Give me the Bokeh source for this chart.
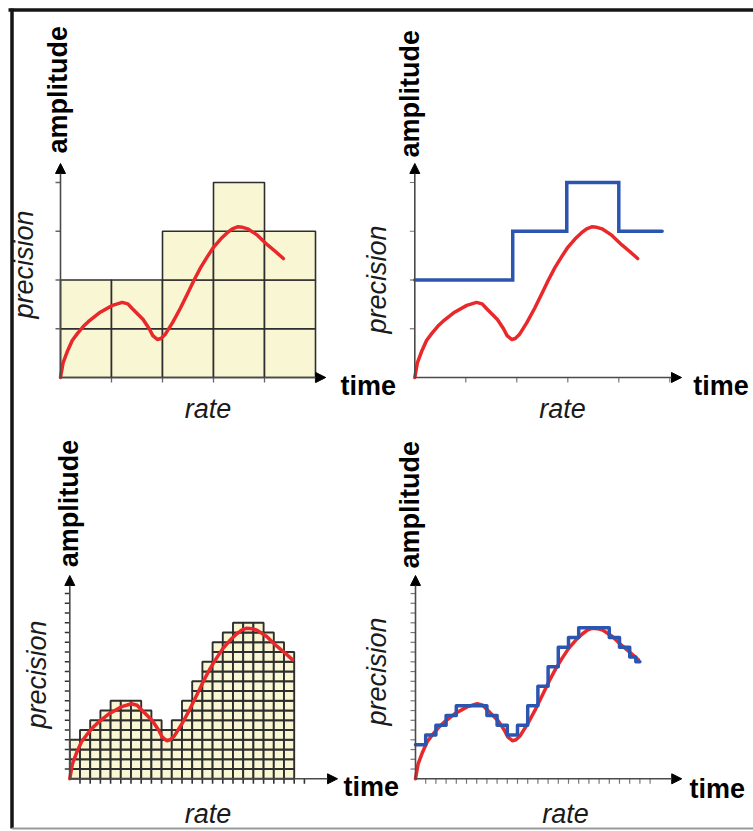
import numpy as np
from bokeh.plotting import figure
from bokeh.models import Range1d, Label, Arrow, NormalHead
from bokeh.embed import file_html
from bokeh.resources import INLINE

# ---------------- data ----------------
# analogue signal (time in sample periods, amplitude in coarse levels)
CURVE_T = [0.0, 0.05, 0.14, 0.23, 0.33, 0.45, 0.55, 0.78, 1.02, 1.21, 1.32, 1.41,
           1.62, 1.74, 1.81, 1.90, 1.97, 2.05, 2.20, 2.35, 2.49, 2.62, 2.75, 2.88,
           3.00, 3.14, 3.27, 3.37, 3.47, 3.57, 3.67, 3.86, 4.06, 4.22, 4.37]
CURVE_A = [0.0, 0.30, 0.55, 0.76, 0.90, 1.05, 1.15, 1.34, 1.48, 1.54, 1.51, 1.41,
           1.19, 1.00, 0.86, 0.78, 0.80, 0.88, 1.13, 1.42, 1.72, 2.00, 2.26, 2.48,
           2.67, 2.84, 2.97, 3.05, 3.09, 3.08, 3.05, 2.92, 2.72, 2.58, 2.44]

# coarse sampling (low rate, low precision)
COARSE_T = [0, 1, 2, 3, 4]
COARSE_LEVEL = [2, 2, 3, 4, 3]
HOLD_T = [0.0, 1.92, 2.98, 4.0]
HOLD_LEVEL = [2, 3, 4, 3]
HOLD_END = 4.85
COARSE_XTICKS = [1, 2, 3, 4, 5]
COARSE_YTICKS = [1, 2, 3, 4]

# fine sampling (high rate, high precision), same units
FINE_T = [0.0, 0.2, 0.4, 0.6, 0.8, 1.0, 1.2, 1.4, 1.6, 1.8, 2.0,
          2.2, 2.4, 2.6, 2.8, 3.0, 3.2, 3.4, 3.6, 3.8, 4.0, 4.2]
FINE_LEVEL = [0.8, 1.0, 1.2, 1.4, 1.6, 1.6, 1.6, 1.4, 1.2, 1.0, 1.2,
              1.6, 2.0, 2.4, 2.8, 3.0, 3.2, 3.2, 3.2, 3.0, 2.8, 2.6]
FINE_HOLD_T = [0.0, 0.2, 0.4, 0.6, 0.8, 1.0, 1.2, 1.4, 1.6, 1.8, 2.0,
               2.2, 2.4, 2.6, 2.8, 3.0, 3.2, 3.4, 3.6, 3.8, 4.0, 4.2, 4.32]
FINE_HOLD_LEVEL = [0.7, 0.9, 1.1, 1.3, 1.5, 1.5, 1.5, 1.3, 1.1, 0.9, 1.1,
                   1.5, 1.9, 2.3, 2.7, 2.9, 3.1, 3.1, 3.1, 2.9, 2.7, 2.5, 2.4]
FINE_HOLD_END = 4.4
FINE_XTICKS = [0.2, 0.4, 0.6, 0.8, 1.0, 1.2, 1.4, 1.6, 1.8, 2.0, 2.2, 2.4,
               2.6, 2.8, 3.0, 3.2, 3.4, 3.6, 3.8, 4.0, 4.2, 4.4, 4.6]
FINE_YTICKS = [0.2, 0.4, 0.6, 0.8, 1.0, 1.2, 1.4, 1.6, 1.8, 2.0, 2.2, 2.4,
               2.6, 2.8, 3.0, 3.2, 3.4, 3.6, 3.8]

AXIS_X = "time"
AXIS_Y = "amplitude"
LABEL_X = "rate"
LABEL_Y = "precision"

# ---------------- styling / layout ----------------
CREAM = "#F9F7D3"
GRIDC = "#2e2e2e"
RED = "#E8282A"
BLUE = "#2C55B0"
FONT = "Liberation Sans"
FS = "27px"

W, H = 753, 831
SX, SY = 51.0, 48.75   # pixels per time unit / per level

p = figure(width=W, height=H, x_range=Range1d(0, W), y_range=Range1d(H, 0),
           x_axis_type=None, y_axis_type=None, toolbar_location=None,
           output_backend="svg", min_border=0, outline_line_color=None,
           background_fill_color="white", border_fill_color="white")

# origins of the four panels (page pixels)
ORIG = {"p1": (60.0, 377.0), "p2": (414.3, 377.0),
        "p3": (69.3, 778.3), "p4": (415.0, 778.3)}
xr, yr = {}, {}
for k, (ox, oy) in ORIG.items():
    xr[k] = Range1d((0 - ox) / SX, (W - ox) / SX)
    yr[k] = Range1d((oy - H) / SY, (oy - 0) / SY)
p.extra_x_ranges = xr
p.extra_y_ranges = yr

# outer frame
p.segment(x0=[8, 11.5], y0=[9.5, 8], x1=[753, 11.5], y1=[9.5, 828],
          line_color="#151515", line_width=3.5)
p.segment(x0=[11.5], y0=[828], x1=[753], y1=[828], line_color="#9a9a9a", line_width=2)


def cells(ts, levels, w, h, name, lw):
    l, r, b, t = [], [], [], []
    for t0, lev in zip(ts, levels):
        n = int(round(lev / h))
        for k in range(n):
            l.append(t0); r.append(t0 + w)
            b.append(k * h); t.append((k + 1) * h)
    p.quad(left=l, right=r, bottom=b, top=t, fill_color=CREAM,
           line_color=GRIDC, line_width=lw, x_range_name=name, y_range_name=name)


def step_path(edges, levels, end):
    xs, ys = [], []
    bounds = list(edges[1:]) + [end]
    for x0, x1, lev in zip(edges, bounds, levels):
        xs += [x0, x1]
        ys += [lev, lev]
    return xs, ys


def axes(name, xtip, ytip, xticks, yticks, tick_color, tick_w):
    tl_y = 5.0 / SY
    tl_x = 5.0 / SX
    p.segment(x0=xticks, y0=[0] * len(xticks), x1=xticks, y1=[-tl_y] * len(xticks),
              line_color=tick_color, line_width=tick_w, x_range_name=name, y_range_name=name)
    p.segment(x0=[0] * len(yticks), y0=yticks, x1=[-tl_x] * len(yticks), y1=yticks,
              line_color=tick_color, line_width=tick_w, x_range_name=name, y_range_name=name)
    for (xe, ye) in [(xtip, 0), (0, ytip)]:
        p.add_layout(Arrow(end=NormalHead(size=10, fill_color="black", line_color="black",
                                          line_width=1),
                           x_start=0, y_start=0, x_end=xe, y_end=ye,
                           line_color="#4a4a4a", line_width=1.6,
                           x_range_name=name, y_range_name=name))


# panel 1: coarse cells
cells(COARSE_T, COARSE_LEVEL, 1.0, 1.0, "p1", 1.6)
axes("p1", 5.2, 4.39, COARSE_XTICKS, COARSE_YTICKS, "#666666", 1.3)
p.line(CURVE_T, CURVE_A, line_color=RED, line_width=3.5, line_join="round",
       line_cap="round", x_range_name="p1", y_range_name="p1")

# panel 2: coarse hold
axes("p2", 5.23, 4.39, COARSE_XTICKS, COARSE_YTICKS, "#777777", 1.2)
p.line(CURVE_T, CURVE_A, line_color=RED, line_width=3.5, line_join="round",
       line_cap="round", x_range_name="p2", y_range_name="p2")
hx, hy = step_path(HOLD_T, HOLD_LEVEL, HOLD_END)
p.line(hx, hy, line_color=BLUE, line_width=3.5, line_join="miter",
       line_cap="round", x_range_name="p2", y_range_name="p2")

# panel 3: fine cells
cells(FINE_T, FINE_LEVEL, 0.2, 0.2, "p3", 1.9)
axes("p3", 5.25, 4.17, FINE_XTICKS, FINE_YTICKS, "#333333", 1.6)
p.line(CURVE_T, CURVE_A, line_color=RED, line_width=3.5, line_join="round",
       line_cap="round", x_range_name="p3", y_range_name="p3")

# panel 4: fine hold
axes("p4", 5.22, 4.17, FINE_XTICKS, FINE_YTICKS, "#777777", 1.2)
p.line(CURVE_T, CURVE_A, line_color=RED, line_width=3.5, line_join="round",
       line_cap="round", x_range_name="p4", y_range_name="p4")
fx, fy = step_path(FINE_HOLD_T, FINE_HOLD_LEVEL, FINE_HOLD_END)
p.line(fx, fy, line_color=BLUE, line_width=3.5, line_join="round",
       line_cap="round", x_range_name="p4", y_range_name="p4")

# texts (page pixel positions)
TEXT_POS = {
    "p1": dict(amp=(57, 153), prec=(23, 318), time=(340, 385), rate=(207.5, 408)),
    "p2": dict(amp=(409, 157), prec=(376, 333), time=(692.7, 385), rate=(562, 408)),
    "p3": dict(amp=(68, 566.7), prec=(36, 728), time=(343, 786.7), rate=(207.5, 813)),
    "p4": dict(amp=(409, 568), prec=(376, 725), time=(689, 788), rate=(565, 813)),
}
for k, pos in TEXT_POS.items():
    p.add_layout(Label(x=pos["amp"][0], y=pos["amp"][1], text=AXIS_Y, angle=np.pi / 2,
                       text_font=FONT, text_font_size=FS, text_font_style="bold",
                       text_align="left", text_baseline="alphabetic", text_color="black"))
    p.add_layout(Label(x=pos["prec"][0], y=pos["prec"][1], text=LABEL_Y, angle=np.pi / 2,
                       text_font=FONT, text_font_size=FS, text_font_style="italic",
                       text_align="left", text_baseline="alphabetic", text_color="#1a1a1a"))
    p.add_layout(Label(x=pos["time"][0], y=pos["time"][1], text=AXIS_X,
                       text_font=FONT, text_font_size=FS, text_font_style="bold",
                       text_align="left", text_baseline="alphabetic", text_color="black"))
    p.add_layout(Label(x=pos["rate"][0], y=pos["rate"][1], text=LABEL_X,
                       text_font=FONT, text_font_size=FS, text_font_style="italic",
                       text_align="center", text_baseline="alphabetic", text_color="#1a1a1a"))

open("out.html", "w").write(file_html(p, INLINE))
